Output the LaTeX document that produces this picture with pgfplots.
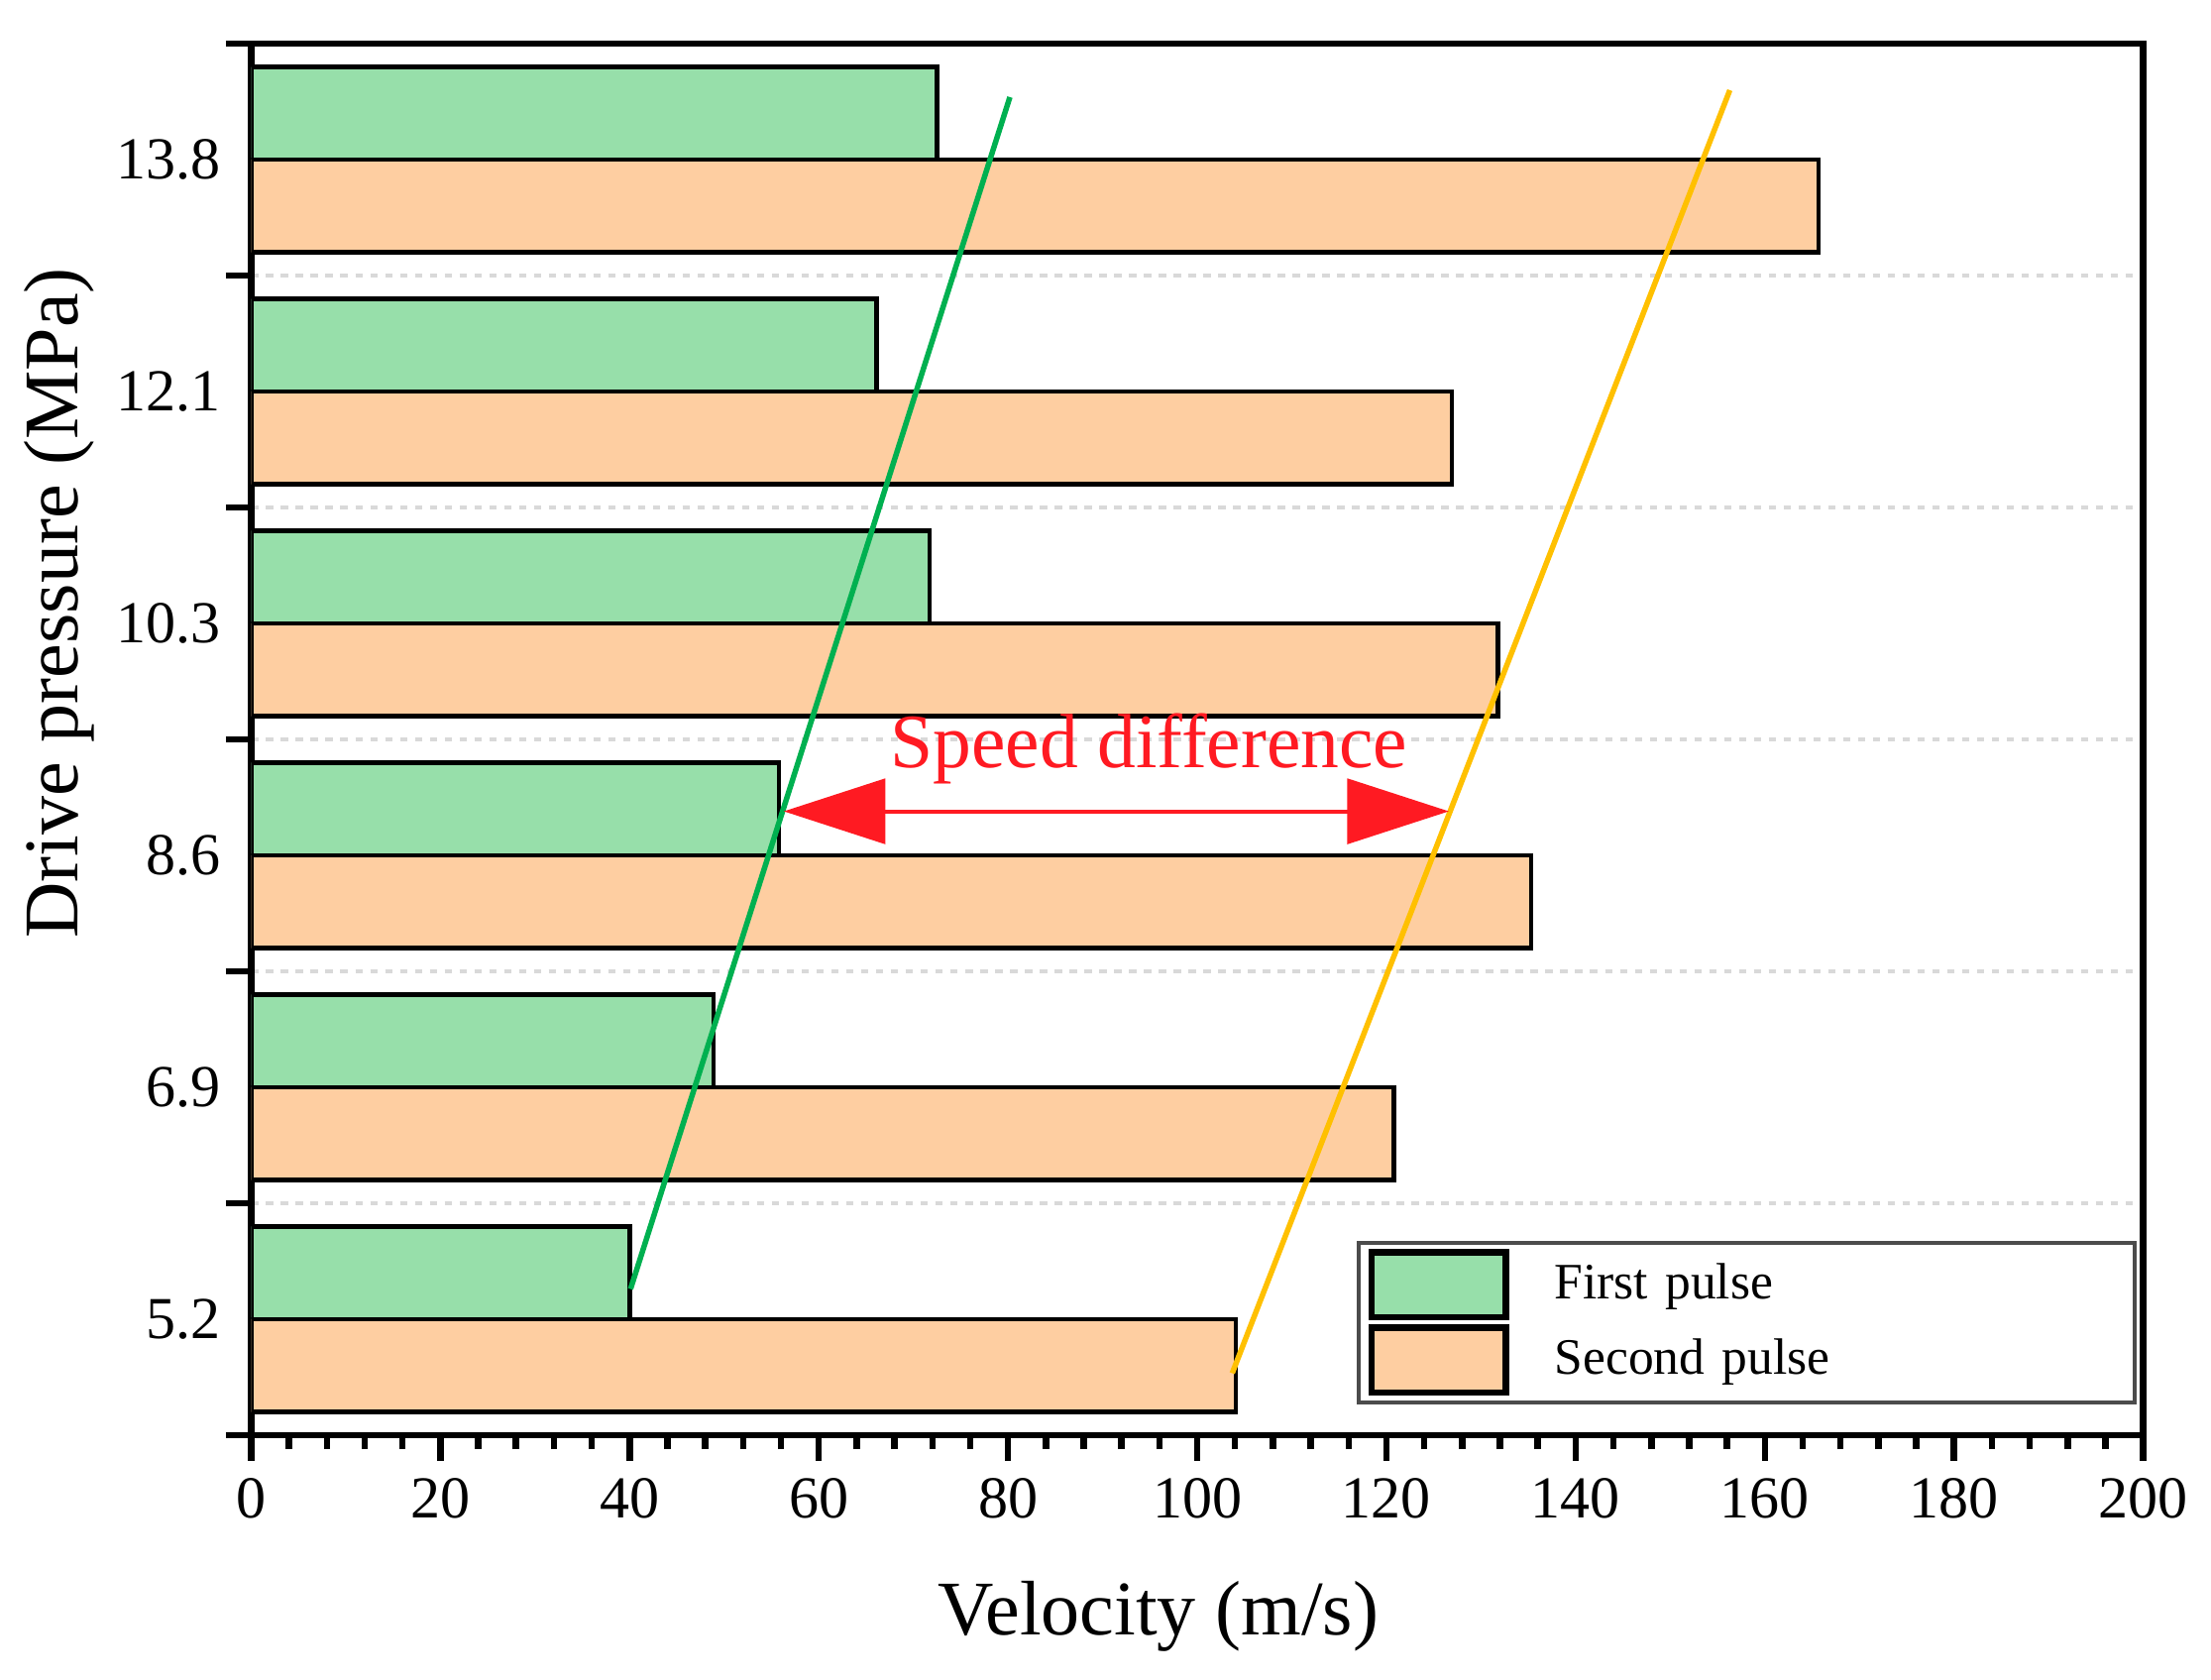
\documentclass[border=0pt]{standalone}
\usepackage{pgfplots}
\pgfplotsset{compat=1.18}
\usepackage{fontspec}
\setmainfont{Liberation Serif}
\usetikzlibrary{arrows.meta}
\definecolor{gfill}{RGB}{151,223,170}
\definecolor{ofill}{RGB}{254,206,161}
\definecolor{gline}{RGB}{0,176,80}
\definecolor{yline}{RGB}{255,192,0}
\definecolor{rarrow}{RGB}{255,26,34}
\begin{document}
\begin{tikzpicture}
\useasboundingbox (0,0) rectangle (15.67cm,11.90cm);
\begin{axis}[
  at={(1.78cm,1.73cm)}, anchor=south west,
  scale only axis, width=13.41cm, height=9.86cm,
  xmin=0, xmax=200, ymin=-0.5, ymax=5.5,
  xbar, bar width=0.4,
  axis line style={line width=1.3pt},
  tick style={line width=1.3pt, black},
  tick align=outside,
  major tick length=0.18cm, minor tick length=0.1cm,
  xtick={0,20,...,200}, minor x tick num=4,
  ytick={-0.5,0.5,...,5.5}, yticklabels={},
  extra y ticks={0,1,2,3,4,5},
  extra y tick labels={5.2,6.9,8.6,10.3,12.1,13.8},
  extra y tick style={major tick length=0pt, grid=none, yticklabel style={xshift=-0.09cm}},
  ymajorgrids,
  major grid style={gray!30, dash pattern=on 1.5pt off 1.5pt, line width=0.8pt},
  xtick pos=bottom, ytick pos=left,
  /pgf/number format/assume math mode=true,
  ticklabel style={font=\fontsize{12}{14}\selectfont},
  xlabel={Velocity (m/s)},
  ylabel={Drive pressure (MPa)},
  label style={font=\fontsize{15.6}{18}\selectfont},
  xlabel style={at={(axis description cs:0.4795,-0.13)}, anchor=center},
  ylabel style={at={(axis description cs:-0.1014,0.598)}, anchor=center},
  legend style={at={(axis description cs:0.9963,0.0223)}, anchor=south east,
    draw=gray!60!black, line width=0.7pt, inner xsep=0.07cm, inner ysep=0.045cm,
    nodes={inner sep=0pt}, row sep=0.03cm,
    font=\fontsize{10.3}{12}\selectfont,
    /tikz/every even column/.append style={text width=4.04cm}},
  legend cell align=left,
  legend image code/.code={\draw[#1, line width=1.3pt] (0cm,-0.23cm) rectangle (0.95cm,0.23cm); \path (1.28cm,0cm);},
]
\addplot[fill=gfill, draw=black, line width=0.9pt, bar shift=0.2] coordinates {
  (40.0,0) (48.9,1) (55.8,2) (71.7,3) (66.1,4) (72.5,5)};
\addlegendentry{First pulse}
\addplot[fill=ofill, draw=black, line width=0.9pt, bar shift=-0.2] coordinates {
  (104.1,0) (120.8,1) (135.3,2) (131.8,3) (126.9,4) (165.7,5)};
\addlegendentry{Second pulse}
\addplot[sharp plot, gline, line width=1.1pt, forget plot] coordinates {(40.1,0.13) (80.2,5.27)};
\addplot[sharp plot, yline, line width=1.1pt, forget plot] coordinates {(103.7,-0.233) (156.3,5.30)};
\draw[rarrow, line width=0.8pt, {Triangle[length=0.72cm,width=0.46cm]}-{Triangle[length=0.72cm,width=0.46cm]}] (axis cs:56.3,2.19) -- (axis cs:126.6,2.19);
\node[rarrow, font=\fontsize{15.5}{18}\selectfont] at (axis cs:94.9,2.46) {Speed difference};
\end{axis}
\end{tikzpicture}
\end{document}
